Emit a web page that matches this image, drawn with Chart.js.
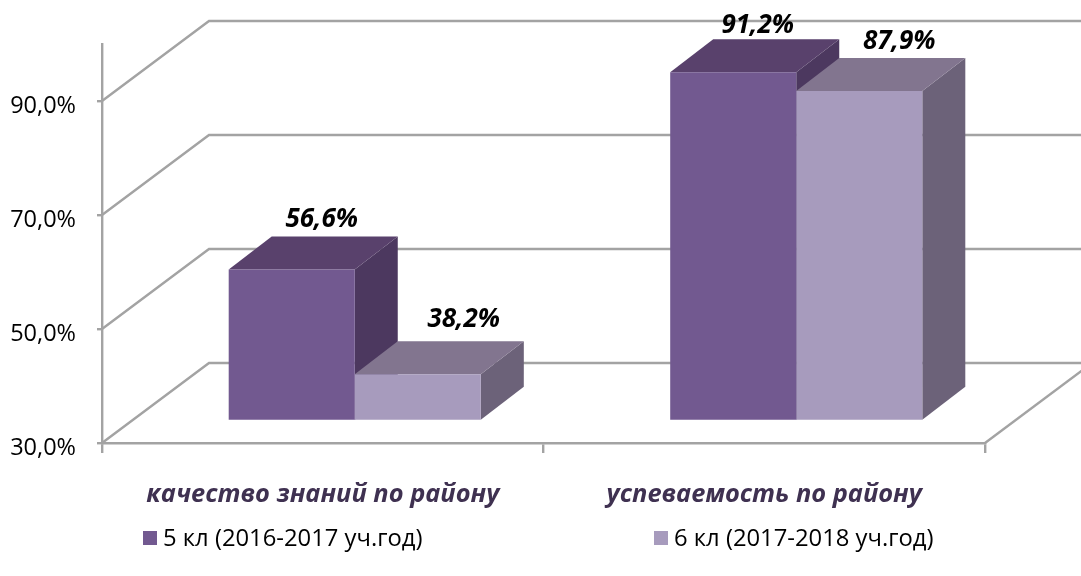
<!DOCTYPE html>
<html>
<head>
<meta charset="utf-8">
<script src="https://cdn.jsdelivr.net/npm/chart.js@4/dist/chart.umd.min.js"></script>
<style>html,body{margin:0;padding:0;background:#fff}canvas{display:block}</style>
</head>
<body>
<canvas id="c" width="1081" height="576"></canvas>
<script>
const categories = ["качество знаний по району", "успеваемость по району"];
const seriesNames = ["5 кл (2016-2017 уч.год)", "6 кл (2017-2018 уч.год)"];
const series5 = [56.6, 91.2];
const series6 = [38.2, 87.9];
const yTicks = [30, 50, 70, 90];

const FONT = '"Open Sans", sans-serif';
const GRID = '#a3a3a3';
const WALL = {dx: 107, dy: -80};
const BAR_SHIFT = {dx: 32, dy: -22};
const DEPTH = {dx: 43, dy: -33};
const FACES = [
  {front: '#725990', top: '#59416c', side: '#4c385f'},
  {front: '#a79bbd', top: '#82758f', side: '#6c6279'}
];
const LABEL_OFFSETS = [[[30, -50], [46, -55]], [[24.5, -47], [40, -49]]];
const LEGEND_X = [143, 654];
const Y_LABEL_SHIFT = 5;
const pct = v => v.toFixed(1).replace('.', ',') + '%';

const scene3d = {
  id: 'scene3d',
  beforeDraw(chart) {
    const s = chart.scales.y;
    if (!s._shifted) {
      const orig = s.drawLabels;
      s.drawLabels = function (area) {
        chart.ctx.save();
        chart.ctx.translate(0, Y_LABEL_SHIFT);
        orig.call(s, area);
        chart.ctx.restore();
      };
      s._shifted = true;
    }
  },
  beforeDatasetsDraw(chart) {
    const {ctx, scales: {x, y}} = chart;
    ctx.save();
    ctx.strokeStyle = GRID;
    ctx.lineWidth = 2.4;
    ctx.lineJoin = 'miter';
    y.ticks.forEach(t => {
      const py = y.getPixelForValue(t.value);
      ctx.beginPath();
      ctx.moveTo(x.left, py);
      ctx.lineTo(x.left + WALL.dx, py + WALL.dy);
      ctx.lineTo(x.right + WALL.dx, py + WALL.dy);
      ctx.stroke();
    });
    const by = y.bottom;
    ctx.beginPath();
    ctx.moveTo(x.right, by);
    ctx.lineTo(x.right + WALL.dx, by + WALL.dy);
    ctx.stroke();
    ctx.restore();

    ctx.save();
    ctx.translate(BAR_SHIFT.dx, BAR_SHIFT.dy);
    chart.data.datasets.forEach((ds, di) => {
      const meta = chart.getDatasetMeta(di);
      meta.data.forEach(bar => {
        const p = bar.getProps(['x', 'y', 'base', 'width'], true);
        const l = p.x - p.width / 2, r = p.x + p.width / 2;
        const f = FACES[di];
        ctx.fillStyle = f.side;
        ctx.beginPath();
        ctx.moveTo(r, p.y);
        ctx.lineTo(r + DEPTH.dx, p.y + DEPTH.dy);
        ctx.lineTo(r + DEPTH.dx, p.base + DEPTH.dy);
        ctx.lineTo(r, p.base);
        ctx.closePath();
        ctx.fill();
        ctx.fillStyle = f.top;
        ctx.beginPath();
        ctx.moveTo(l, p.y);
        ctx.lineTo(l + DEPTH.dx, p.y + DEPTH.dy);
        ctx.lineTo(r + DEPTH.dx, p.y + DEPTH.dy);
        ctx.lineTo(r, p.y);
        ctx.closePath();
        ctx.fill();
      });
    });
  },
  afterDatasetsDraw(chart) {
    const {ctx} = chart;
    ctx.restore();
    ctx.save();
    ctx.fillStyle = '#000';
    ctx.font = 'italic bold 26px ' + FONT;
    ctx.textAlign = 'center';
    ctx.textBaseline = 'middle';
    chart.data.datasets.forEach((ds, di) => {
      chart.getDatasetMeta(di).data.forEach((bar, i) => {
        const off = LABEL_OFFSETS[i][di];
        ctx.fillText(pct(ds.data[i]), bar.x + BAR_SHIFT.dx + off[0], bar.y + BAR_SHIFT.dy + off[1]);
      });
    });
    ctx.restore();
    ctx.save();
    ctx.font = '23.8px ' + FONT;
    ctx.textAlign = 'left';
    ctx.textBaseline = 'middle';
    chart.data.datasets.forEach((ds, di) => {
      ctx.fillStyle = ds.backgroundColor;
      ctx.fillRect(LEGEND_X[di], 531, 14, 14);
      ctx.fillStyle = '#000';
      ctx.fillText(ds.label, LEGEND_X[di] + 20, 539);
    });
    ctx.restore();
  }
};

new Chart(document.getElementById('c'), {
  type: 'bar',
  data: {
    labels: categories,
    datasets: [
      {label: seriesNames[0], data: series5, backgroundColor: FACES[0].front, clip: false, base: 30},
      {label: seriesNames[1], data: series6, backgroundColor: FACES[1].front, clip: false, base: 30}
    ]
  },
  options: {
    responsive: false,
    animation: false,
    events: [],
    layout: {padding: {left: 0, right: 96, top: 44, bottom: 0}},
    datasets: {bar: {barPercentage: 1, categoryPercentage: 0.571}},
    plugins: {legend: {display: false}, tooltip: {enabled: false}, title: {display: false}},
    scales: {
      x: {
        afterFit(s) { s.height = 133; },
        border: {color: GRID, width: 2.4},
        grid: {drawOnChartArea: false, drawTicks: true, tickLength: 10, color: GRID, lineWidth: 2.4},
        ticks: {
          autoSkip: false, maxRotation: 0, padding: 27,
          color: '#3f3151',
          font: {family: FONT, size: 25.4, style: 'italic', weight: 'bold'}
        }
      },
      y: {
        min: 30,
        max: 100,
        afterFit(s) { s.width = 102; },
        afterBuildTicks(s) { s.ticks = yTicks.map(value => ({value})); },
        border: {color: GRID, width: 2.4},
        grid: {drawOnChartArea: false, drawTicks: true, tickLength: 5, color: GRID, lineWidth: 2.4},
        ticks: {
          padding: 21,
          color: '#000',
          font: {family: FONT, size: 23.5},
          callback: v => pct(v)
        }
      }
    }
  },
  plugins: [scene3d]
});
</script>
</body>
</html>
